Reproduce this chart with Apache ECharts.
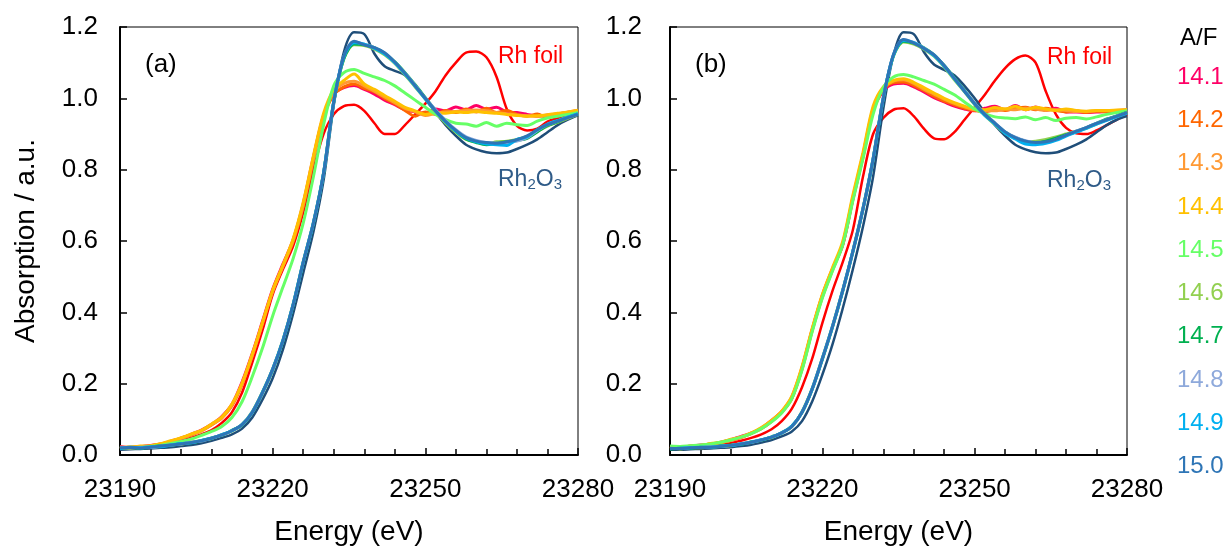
<!DOCTYPE html>
<html>
<head>
<meta charset="utf-8">
<script src="https://cdn.jsdelivr.net/npm/echarts@6/dist/echarts.min.js"></script>
<style>
html,body{margin:0;padding:0;background:#fff;}
#chart{width:1227px;height:551px;}
</style>
</head>
<body>
<div id="chart"></div>
<script>
// ---------- data ----------
const energy = [23190,23192,23194,23196,23198,23200,23202,23204,23206,23208,
  23210,23212,23214,23216,23218,23220,23222,23224,23226,23228,
  23230,23232,23234,23236,23238,23240,23242,23244,23246,23248,
  23250,23252,23254,23256,23258,23260,23262,23264,23266,23268,
  23270,23272,23274,23276,23278,23280];

const xTicks = [23190, 23220, 23250, 23280];
const yTicks = [0.0, 0.2, 0.4, 0.6, 0.8, 1.0, 1.2];

const afLabels = ['14.1','14.2','14.3','14.4','14.5','14.6','14.7','14.8','14.9','15.0'];
const afColors = ['#FF0066','#FF6600','#FF9933','#FFC000','#66FF66','#92D050','#00B050','#8EA9DB','#00B0F0','#2E75B6'];

// panel (a)
const rhFoilA = [0.020,0.020,0.022,0.025,0.028,0.033,0.040,0.048,0.058,0.070, 0.090,0.120,0.175,0.260,0.350, 0.450,0.520,0.585,0.680,0.800, 0.900,0.955,0.978,0.982,0.965, 0.930,0.900,0.900,0.925,0.955, 0.985,1.020,1.065,1.100,1.128, 1.131,1.115,1.060,0.970,0.923, 0.910,0.915,0.935,0.945,0.955,0.965];
const rh2o3A = [0.015,0.016,0.017,0.018,0.020,0.022,0.025,0.028,0.033,0.040, 0.048,0.058,0.074,0.105,0.155, 0.215,0.295,0.395,0.510,0.625, 0.770,0.980,1.130,1.185,1.180, 1.125,1.090,1.077,1.065,1.035, 1.000,0.960,0.925,0.895,0.870, 0.857,0.849,0.846,0.848,0.858, 0.870,0.885,0.905,0.925,0.940,0.952];
const s141A = [0.024,0.020,0.023,0.027,0.030,0.039,0.046,0.058,0.070,0.086, 0.108,0.142,0.205,0.285,0.375, 0.465,0.535,0.603,0.705,0.835, 0.952,1.012,1.030,1.036,1.025, 1.012,0.995,0.982,0.968,0.962, 0.958,0.970,0.965,0.976,0.968, 0.980,0.970,0.975,0.962,0.960, 0.955,0.950,0.953,0.956,0.961,0.966];
const s142A = [0.018,0.022,0.021,0.026,0.031,0.037,0.048,0.056,0.068,0.084, 0.104,0.138,0.198,0.280,0.370, 0.460,0.530,0.598,0.698,0.828, 0.948,1.010,1.032,1.040,1.028, 1.018,1.000,0.985,0.966,0.950, 0.962,0.955,0.966,0.960,0.970, 0.962,0.972,0.960,0.966,0.955, 0.950,0.956,0.946,0.955,0.958,0.964];
const s143A = [0.021,0.023,0.024,0.024,0.029,0.038,0.047,0.057,0.067,0.085, 0.103,0.140,0.200,0.278,0.368, 0.458,0.528,0.600,0.700,0.830, 0.950,1.018,1.042,1.048,1.035, 1.020,1.004,0.988,0.972,0.962, 0.952,0.958,0.962,0.963,0.966, 0.967,0.965,0.960,0.957,0.953, 0.951,0.949,0.952,0.956,0.960,0.965];
const s144A = [0.022,0.021,0.025,0.026,0.032,0.040,0.048,0.059,0.069,0.087, 0.106,0.143,0.202,0.283,0.372, 0.462,0.532,0.605,0.708,0.838, 0.958,1.025,1.050,1.068,1.040, 1.025,1.008,0.992,0.975,0.965, 0.955,0.960,0.958,0.962,0.960, 0.963,0.960,0.958,0.955,0.952, 0.950,0.951,0.954,0.958,0.962,0.967];
const s145A = [0.020,0.022,0.020,0.024,0.027,0.032,0.038,0.045,0.055,0.066, 0.080,0.105,0.150,0.220,0.300, 0.390,0.470,0.550,0.650,0.780, 0.925,1.035,1.072,1.081,1.070, 1.060,1.050,1.035,1.015,0.995, 0.975,0.955,0.940,0.930,0.928, 0.922,0.932,0.922,0.930,0.926, 0.924,0.936,0.945,0.950,0.955,0.960];
const s146A = [0.022,0.019,0.021,0.023,0.024,0.029,0.030,0.036,0.041,0.046, 0.057,0.067,0.086,0.122,0.177, 0.242,0.322,0.422,0.542,0.652, 0.792,0.992,1.112,1.150,1.148, 1.138,1.122,1.098,1.066,1.032, 0.998,0.962,0.930,0.905,0.885, 0.878,0.872,0.878,0.880,0.885, 0.893,0.908,0.922,0.933,0.944,0.955];
const s147A = [0.019,0.021,0.019,0.022,0.026,0.027,0.032,0.034,0.040,0.048, 0.055,0.069,0.084,0.119,0.174, 0.238,0.318,0.418,0.538,0.648, 0.788,0.988,1.112,1.152,1.150, 1.142,1.126,1.102,1.072,1.038, 1.002,0.966,0.934,0.908,0.886, 0.876,0.870,0.874,0.878,0.882, 0.888,0.906,0.924,0.934,0.946,0.956];
const s148A = [0.021,0.020,0.022,0.021,0.025,0.028,0.031,0.036,0.039,0.047, 0.056,0.068,0.085,0.121,0.175, 0.240,0.320,0.420,0.540,0.650, 0.790,0.990,1.118,1.158,1.152, 1.142,1.126,1.100,1.070,1.036, 1.000,0.968,0.938,0.912,0.892, 0.882,0.876,0.874,0.875,0.880, 0.890,0.910,0.926,0.936,0.946,0.956];
const s149A = [0.018,0.022,0.020,0.023,0.023,0.028,0.032,0.034,0.041,0.047, 0.057,0.068,0.086,0.120,0.176, 0.241,0.321,0.421,0.541,0.651, 0.791,0.991,1.116,1.156,1.152, 1.140,1.124,1.100,1.068,1.034, 0.998,0.964,0.934,0.908,0.888, 0.878,0.872,0.870,0.868,0.885, 0.892,0.912,0.928,0.938,0.948,0.957];
const s150A = [0.020,0.021,0.019,0.022,0.025,0.028,0.031,0.035,0.040,0.047, 0.056,0.068,0.085,0.120,0.175, 0.240,0.320,0.420,0.540,0.650, 0.790,0.990,1.118,1.160,1.150, 1.142,1.128,1.102,1.070,1.035, 1.000,0.965,0.935,0.910,0.890, 0.880,0.876,0.874,0.878,0.884, 0.895,0.912,0.926,0.936,0.946,0.955];

// panel (b)
const rhFoilB = [0.018,0.018,0.020,0.022,0.025,0.028,0.033,0.040,0.048,0.058, 0.072,0.095,0.130,0.190,0.270, 0.370,0.460,0.540,0.630,0.780, 0.900,0.945,0.968,0.972,0.950, 0.915,0.888,0.885,0.905,0.940, 0.975,1.010,1.050,1.085,1.110, 1.120,1.100,1.020,0.955,0.917, 0.902,0.900,0.910,0.925,0.940,0.955];
const rh2o3B = [0.015,0.015,0.016,0.017,0.018,0.020,0.022,0.025,0.029,0.035, 0.042,0.052,0.066,0.095,0.150, 0.225,0.310,0.410,0.520,0.640, 0.780,0.970,1.120,1.185,1.180, 1.130,1.095,1.080,1.065,1.035, 1.000,0.960,0.925,0.895,0.870, 0.857,0.849,0.846,0.848,0.858, 0.870,0.885,0.905,0.925,0.940,0.950];
const s141B = [0.024,0.021,0.025,0.028,0.029,0.036,0.043,0.052,0.061,0.076, 0.097,0.122,0.163,0.245,0.352, 0.448,0.522,0.588,0.715,0.835, 0.965,1.020,1.040,1.042,1.032, 1.018,1.002,0.990,0.978,0.970, 0.965,0.972,0.978,0.968,0.980, 0.968,0.976,0.966,0.972,0.962, 0.962,0.960,0.962,0.963,0.964,0.966];
const s142B = [0.020,0.023,0.023,0.026,0.031,0.034,0.041,0.049,0.061,0.074, 0.094,0.119,0.158,0.242,0.350, 0.445,0.520,0.590,0.718,0.840, 0.968,1.024,1.044,1.046,1.036, 1.022,1.006,0.992,0.982,0.972, 0.966,0.962,0.968,0.966,0.972, 0.975,0.968,0.972,0.966,0.962, 0.965,0.960,0.964,0.962,0.966,0.968];
const s143B = [0.022,0.022,0.024,0.027,0.030,0.035,0.042,0.050,0.060,0.075, 0.095,0.121,0.160,0.240,0.348, 0.442,0.518,0.592,0.722,0.842, 0.972,1.028,1.048,1.052,1.042, 1.026,1.012,0.998,0.986,0.976, 0.968,0.966,0.965,0.970,0.968, 0.972,0.970,0.966,0.968,0.966, 0.963,0.963,0.965,0.965,0.966,0.967];
const s144B = [0.023,0.021,0.025,0.026,0.032,0.036,0.044,0.051,0.062,0.077, 0.097,0.123,0.165,0.248,0.355, 0.450,0.525,0.598,0.728,0.848, 0.978,1.032,1.050,1.055,1.045, 1.030,1.015,1.000,0.988,0.978, 0.970,0.968,0.974,0.970,0.978, 0.968,0.975,0.970,0.966,0.970, 0.966,0.964,0.966,0.966,0.967,0.968];
const s145B = [0.025,0.024,0.026,0.028,0.031,0.036,0.042,0.050,0.060,0.074, 0.093,0.118,0.158,0.238,0.345, 0.440,0.516,0.588,0.712,0.830, 0.955,1.030,1.060,1.067,1.060, 1.050,1.040,1.025,1.010,0.990, 0.970,0.957,0.948,0.945,0.943, 0.948,0.940,0.946,0.938,0.944, 0.946,0.942,0.948,0.955,0.960,0.965];
const s146B = [0.020,0.017,0.021,0.020,0.023,0.025,0.026,0.032,0.035,0.043, 0.049,0.063,0.079,0.122,0.187, 0.272,0.362,0.462,0.572,0.692, 0.832,1.002,1.118,1.158,1.152, 1.138,1.118,1.088,1.052,1.018, 0.982,0.952,0.926,0.902,0.888, 0.878,0.880,0.885,0.892,0.900, 0.908,0.916,0.928,0.940,0.950,0.960];
const s147B = [0.017,0.019,0.019,0.022,0.021,0.025,0.028,0.030,0.037,0.041, 0.051,0.061,0.081,0.119,0.184, 0.268,0.358,0.458,0.568,0.688, 0.828,0.998,1.120,1.160,1.155, 1.142,1.122,1.092,1.058,1.022, 0.986,0.956,0.930,0.906,0.890, 0.880,0.874,0.880,0.888,0.898, 0.906,0.918,0.930,0.942,0.951,0.961];
const s148B = [0.019,0.018,0.021,0.021,0.023,0.024,0.027,0.032,0.036,0.042, 0.050,0.062,0.080,0.121,0.186, 0.271,0.361,0.461,0.571,0.691, 0.831,1.001,1.122,1.164,1.157, 1.141,1.121,1.091,1.056,1.021, 0.986,0.956,0.931,0.906,0.891, 0.881,0.876,0.876,0.884,0.896, 0.908,0.918,0.930,0.940,0.950,0.960];
const s149B = [0.018,0.019,0.020,0.022,0.022,0.025,0.027,0.031,0.036,0.043, 0.050,0.062,0.081,0.120,0.185, 0.270,0.360,0.460,0.570,0.690, 0.830,1.000,1.120,1.162,1.156, 1.140,1.120,1.090,1.055,1.020, 0.984,0.952,0.928,0.902,0.886, 0.872,0.870,0.874,0.882,0.894, 0.905,0.916,0.928,0.938,0.948,0.958];
const s150B = [0.018,0.018,0.020,0.021,0.022,0.024,0.027,0.031,0.036,0.042, 0.050,0.062,0.080,0.120,0.185, 0.270,0.360,0.460,0.570,0.690, 0.830,1.000,1.122,1.165,1.155, 1.140,1.122,1.092,1.056,1.020, 0.985,0.955,0.930,0.906,0.890, 0.880,0.876,0.878,0.885,0.897, 0.908,0.918,0.930,0.940,0.950,0.960];

const samplesA = [s141A,s142A,s143A,s144A,s145A,s146A,s147A,s148A,s149A,s150A];
const samplesB = [s141B,s142B,s143B,s144B,s145B,s146B,s147B,s148B,s149B,s150B];

// ---------- chart ----------
const FONT = '"Liberation Sans", Arial, sans-serif';
const RH_FOIL_COLOR = '#FF0000';
const RH2O3_COLOR = '#1F4E79';
const RH2O3_TEXT = '#2F5B88';

function pairs(vals){ return energy.map((e,i)=>[e, vals[i]]); }

function lineSeries(name, vals, color, idx, width, z){
  return {
    name: name, type: 'line', xAxisIndex: idx, yAxisIndex: idx,
    data: pairs(vals), showSymbol: false, smooth: 0.3,
    lineStyle: {color: color, width: width}, itemStyle: {color: color},
    z: z, emphasis: {disabled: true}
  };
}

function xAx(idx){
  return {
    gridIndex: idx, type: 'value', min: xTicks[0], max: xTicks[xTicks.length-1],
    interval: xTicks[1]-xTicks[0],
    axisLine: {onZero: false, lineStyle: {color: '#000', width: 2}},
    axisTick: {inside: true, length: 7, lineStyle: {color: '#000', width: 1.5}},
    minorTick: {show: true, splitNumber: 5, length: 6, lineStyle: {color: '#000', width: 1.5}},
    splitLine: {show: false},
    axisLabel: {fontSize: 26, color: '#000', fontFamily: FONT, margin: 22, formatter: v => String(v)},
    name: 'Energy (eV)',
    nameLocation: 'middle', nameGap: 63,
    nameTextStyle: {fontSize: 28, color: '#000', fontFamily: FONT}
  };
}
function yAx(idx, withName, margin){
  return {
    gridIndex: idx, type: 'value', min: yTicks[0], max: yTicks[yTicks.length-1],
    interval: yTicks[1]-yTicks[0],
    axisLine: {onZero: false, lineStyle: {color: '#000', width: 2}},
    axisTick: {inside: true, length: 7, lineStyle: {color: '#000', width: 1.5}},
    splitLine: {show: false},
    axisLabel: {fontSize: 26, color: '#000', fontFamily: FONT, margin: margin, formatter: v => v.toFixed(1)},
    name: withName ? 'Absorption / a.u.' : '',
    nameLocation: 'middle', nameGap: 80, nameRotate: 90,
    nameTextStyle: {fontSize: 28, color: '#000', fontFamily: FONT}
  };
}

const series = [];
[[rhFoilA, rh2o3A, samplesA, 0], [rhFoilB, rh2o3B, samplesB, 1]].forEach(([foil, oxide, samples, idx]) => {
  series.push(lineSeries('Rh foil', foil, RH_FOIL_COLOR, idx, 2.5, 2));
  series.push(lineSeries('Rh2O3', oxide, RH2O3_COLOR, idx, 2.5, 2));
  samples.forEach((vals, k) => series.push(lineSeries(afLabels[k], vals, afColors[k], idx, 3, 3)));
});

const graphics = [];
graphics.push({type:'text', left:145, top:52, style:{text:'(a)', font:'26px '+FONT, fill:'#000'}});
graphics.push({type:'text', left:695, top:52, style:{text:'(b)', font:'26px '+FONT, fill:'#000'}});
const richSub = {s: {fontSize: 15, fill: RH2O3_TEXT, color: RH2O3_TEXT, fontFamily: FONT, padding:[10,0,0,0]}};
graphics.push({type:'text', left:498, top:45, style:{text:'Rh foil', font:'23px '+FONT, fill:RH_FOIL_COLOR}});
graphics.push({type:'text', left:1047, top:46, style:{text:'Rh foil', font:'23px '+FONT, fill:RH_FOIL_COLOR}});
graphics.push({type:'text', left:498, top:168, style:{text:'Rh{s|2}O{s|3}', font:'23px '+FONT, fill:RH2O3_TEXT, rich: richSub}});
graphics.push({type:'text', left:1047, top:169, style:{text:'Rh{s|2}O{s|3}', font:'23px '+FONT, fill:RH2O3_TEXT, rich: richSub}});
// A/F legend
graphics.push({type:'text', left:1180, top:26, style:{text:'A/F', font:'24px '+FONT, fill:'#000'}});
afLabels.forEach((lab, k) => {
  graphics.push({type:'text', left:1177, top:65 + k*43.3, style:{text:lab, font:'24px '+FONT, fill:afColors[k]}});
});

const chart = echarts.init(document.getElementById('chart'), null, {renderer:'canvas'});
chart.setOption({
  animation: false,
  backgroundColor: '#fff',
  grid: [
    {left:120, top:27, width:458, height:434, show:true, borderColor:'#000', borderWidth:1, backgroundColor:'transparent'},
    {left:670, top:27, width:457, height:434, show:true, borderColor:'#000', borderWidth:1, backgroundColor:'transparent'}
  ],
  xAxis: [xAx(0), xAx(1)],
  yAxis: [yAx(0, true, 22), yAx(1, false, 28)],
  series: series,
  graphic: graphics
});
</script>
</body>
</html>
